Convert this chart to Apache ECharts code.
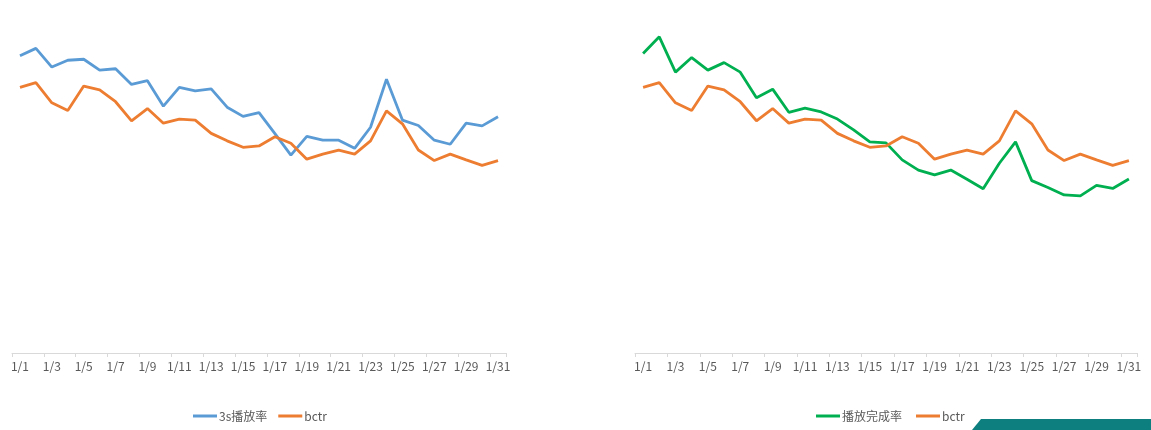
<!DOCTYPE html>
<html>
<head>
<meta charset="utf-8">
<script src="https://cdn.jsdelivr.net/npm/echarts@6/dist/echarts.min.js"></script>
<style>
html,body{margin:0;padding:0;background:#fff;}
#chart{width:1151px;height:430px;}
</style>
</head>
<body>
<div id="chart"></div>
<script>
const categories = ['1/1','1/2','1/3','1/4','1/5','1/6','1/7','1/8','1/9','1/10','1/11','1/12','1/13','1/14','1/15','1/16','1/17','1/18','1/19','1/20','1/21','1/22','1/23','1/24','1/25','1/26','1/27','1/28','1/29','1/30','1/31'];
const play3s = [87.4,89.6,84.1,86.1,86.4,83.2,83.6,79.0,80.1,72.6,78.1,77.1,77.7,72.3,69.6,70.7,64.5,58.2,63.7,62.6,62.6,60.2,66.4,80.5,68.5,66.9,62.6,61.4,67.6,66.8,69.5];
const bctr = [78.1,79.5,73.6,71.3,78.5,77.4,73.9,68.3,71.9,67.6,68.8,68.5,64.6,62.4,60.5,60.9,63.6,61.7,57.0,58.5,59.7,58.5,62.4,71.2,67.4,59.7,56.6,58.5,56.8,55.2,56.6];
const completion = [88.1,93.0,82.6,86.9,83.2,85.4,82.6,75.1,77.6,70.8,72.0,70.9,68.8,65.6,62.1,61.8,56.8,53.8,52.4,53.8,51.1,48.3,55.8,62.1,50.7,48.7,46.5,46.2,49.3,48.4,51.2];

const BLUE = '#5b9bd5', ORANGE = '#ed7d31', GREEN = '#00b050';
const textColor = '#595959';
const font = '"Noto Sans CJK SC", "Open Sans", sans-serif';

function xAxis(gridIndex) {
  return {
    type: 'category', gridIndex, data: categories, boundaryGap: true,
    axisLine: {show: true, lineStyle: {color: '#d9d9d9', width: 1}},
    axisTick: {show: true, interval: 1, length: 4, lineStyle: {color: '#d9d9d9'}},
    axisLabel: {interval: 1, color: textColor, fontSize: 12, fontFamily: font, margin: 7, hideOverlap: false},
    splitLine: {show: false}
  };
}
function yAxis(gridIndex) {
  return {type: 'value', gridIndex, min: 0, max: 100, show: false, splitLine: {show: false}};
}
function line(name, data, color, idx) {
  return {
    name, type: 'line', data, xAxisIndex: idx, yAxisIndex: idx,
    symbol: 'none', smooth: false,
    lineStyle: {color, width: 2.8}, itemStyle: {color}
  };
}
const legendText = {color: textColor, fontSize: 12, fontFamily: font, padding: [0, 0, 0, -3]};
const chart = echarts.init(document.getElementById('chart'), null, {renderer: 'canvas'});
chart.setOption({
  backgroundColor: '#fff',
  animation: false,
  grid: [
    {left: 12, right: 645, top: 13, bottom: 77},
    {left: 635, right: 14, top: 13, bottom: 77}
  ],
  xAxis: [xAxis(0), xAxis(1)],
  yAxis: [yAxis(0), yAxis(1)],
  legend: [
    {data: ['3s播放率', 'bctr'], left: 193, top: 410, padding: 0, itemWidth: 24, itemHeight: 3, itemGap: 11,
     icon: 'rect', textStyle: legendText},
    {data: ['播放完成率', 'bctr'], left: 816, top: 410, padding: 0, itemWidth: 24, itemHeight: 3, itemGap: 14,
     icon: 'rect', textStyle: legendText}
  ],
  series: [
    line('3s播放率', play3s, BLUE, 0),
    line('bctr', bctr, ORANGE, 0),
    line('播放完成率', completion, GREEN, 1),
    line('bctr', bctr, ORANGE, 1)
  ],
  graphic: [{
    type: 'polygon', silent: true,
    shape: {points: [[981, 419], [1151, 419], [1151, 430], [972, 430]]},
    style: {fill: '#0e7f7f'}
  }]
});
</script>
</body>
</html>
